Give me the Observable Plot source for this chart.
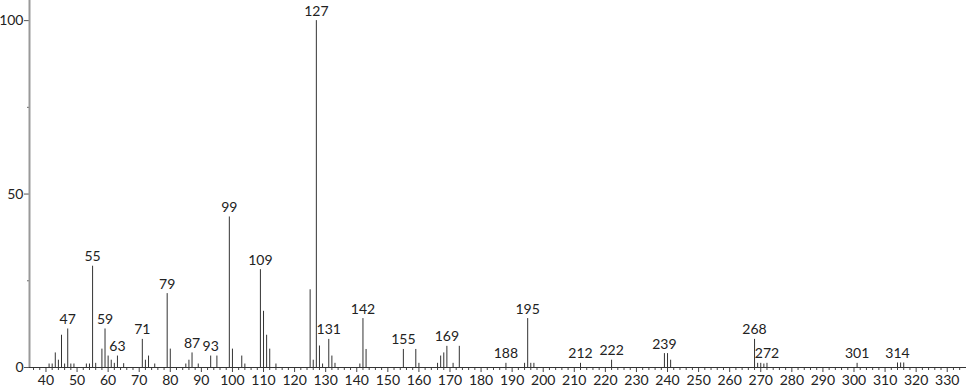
<!DOCTYPE html>
<html>
<head>
<meta charset="utf-8">
<script src="https://cdn.jsdelivr.net/npm/d3@7"></script>
<script src="https://cdn.jsdelivr.net/npm/@observablehq/plot@0.6"></script>
<style>
  html, body { margin: 0; padding: 0; background: #fff; }
  #chart svg { display: block; }
</style>
</head>
<body>
<div id="chart"></div>
<script>
const mz = [41,42,43,44,45,46,47,48,49,53,54,55,56,58,59,60,61,62,63,65,71,72,73,75,79,80,85,86,87,89,93,95,99,100,103,104,109,110,111,112,114,125,126,127,128,129,131,132,133,141,142,143,155,159,160,166,167,168,169,171,173,188,194,195,196,197,212,222,239,240,241,268,269,270,271,272,301,314,315,316];
const intensity = [1.0,1.0,4.2,2.1,9.3,1.0,11.1,1.0,1.0,1.0,1.0,29.2,1.2,5.3,11.1,3.3,2.1,1.2,3.3,1.1,8.1,2.1,3.3,1.0,21.3,5.3,1.0,2.1,4.2,1.0,3.3,3.3,43.4,5.3,3.3,1.0,28.2,16.2,9.3,5.3,1.0,22.4,2.1,100,6.2,1.0,8.1,3.3,1.2,1.0,14.1,5.2,5.2,5.2,1.2,1.2,3.3,4.2,6.1,1.2,6.1,1.2,1.2,14.1,1.2,1.2,1.2,2.1,4.0,4.0,2.1,8.1,1.2,1.2,1.0,1.2,1.2,1.3,1.3,1.3];
const labeledPeaks = [47,55,59,63,71,79,87,93,99,109,127,131,142,155,169,188,195,212,222,239,268,272,301,314];
const xMajorTicks = d3.range(40, 331, 10);
const xMinorTicks = d3.range(36, 336, 2).filter(v => v % 10 !== 0);
const yMajorTicks = [0, 50, 100];
const yMinorTicks = [25, 75];

const peaks = mz.map((m, i) => ({mz: m, intensity: intensity[i]}));
const labels = peaks.filter(p => labeledPeaks.includes(p.mz));

const font = "Lato, 'Open Sans', sans-serif";
const xDomain = [34.7, 336.2];

const chart = Plot.plot({
  width: 966,
  height: 389,
  marginTop: 0,
  marginLeft: 29,
  marginRight: 0,
  marginBottom: 22,
  style: {fontFamily: font, fontSize: "14px", color: "#222", background: "#fff"},
  x: {domain: xDomain, axis: null, label: null},
  y: {domain: [0, 105.8], axis: null, label: null},
  marks: [
    Plot.axisX({ticks: xMinorTicks, tickSize: 3, tickFormat: () => "", stroke: "#444", label: null}),
    Plot.axisX({ticks: xMajorTicks, tickSize: 5, tickPadding: 3, stroke: "#444", fontSize: 14, fill: "#222", label: null}),
    Plot.axisY({ticks: yMinorTicks, tickSize: 2, tickFormat: () => "", stroke: "#666", label: null}),
    Plot.axisY({ticks: yMajorTicks, tickSize: 5, tickPadding: 1, stroke: "#555", fontSize: 14, fill: "#222", label: null}),
    Plot.ruleX(peaks, {x: "mz", y1: 0, y2: "intensity", stroke: "#333", strokeWidth: 1}),
    Plot.ruleY([0], {stroke: "#333", strokeWidth: 1}),
    Plot.ruleX([xDomain[0]], {stroke: "#999", strokeWidth: 2}),
    Plot.text(labels, {x: "mz", y: "intensity", text: d => String(d.mz), lineAnchor: "bottom", dy: -5, fontSize: 14, fill: "#222"})
  ]
});
document.getElementById("chart").appendChild(chart);
</script>
</body>
</html>
